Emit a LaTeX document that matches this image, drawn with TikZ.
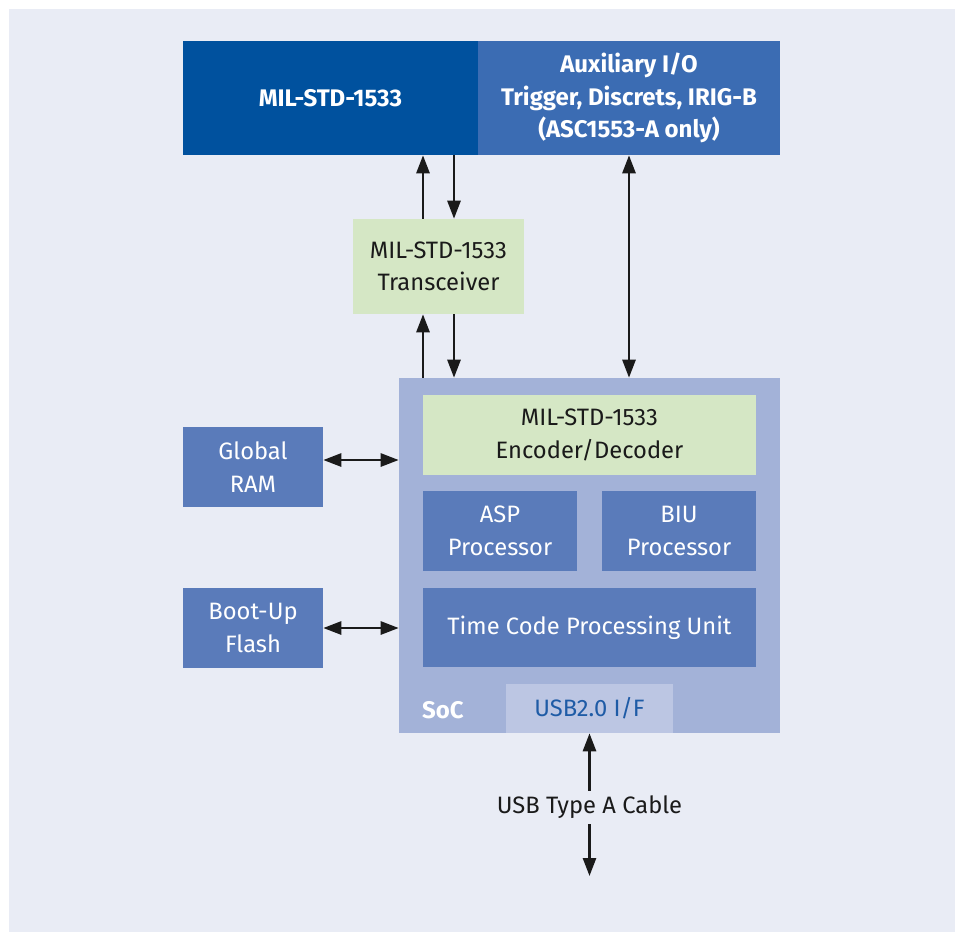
\documentclass[tikz,border=0pt]{standalone}
\usepackage{fontspec}
\setmainfont{Fira Sans}
\usetikzlibrary{arrows.meta}
\definecolor{bgc}{HTML}{E9ECF5}
\definecolor{darkb}{HTML}{00519E}
\definecolor{auxb}{HTML}{3B6CB3}
\definecolor{lgreen}{HTML}{D5E7C5}
\definecolor{socb}{HTML}{A3B2D8}
\definecolor{midb}{HTML}{5A7BBA}
\definecolor{usbb}{HTML}{BCC6E3}
\definecolor{usbt}{HTML}{1E5BA6}
\definecolor{ink}{HTML}{1A1A1A}
\tikzset{
  blk/.style={rectangle, inner sep=0pt, align=center, font=\fontsize{17.8}{24.4}\selectfont},
  boldtxt/.style={font=\fontsize{18}{24.4}\selectfont\bfseries},
  greenbox/.style={blk, fill=lgreen, text=ink},
  bluebox/.style={blk, fill=midb, text=white},
  conn/.style={draw=ink, line width=2pt, -{Triangle[length=13.5pt,width=9.75pt]}},
  conn2/.style={draw=ink, line width=2pt, {Triangle[length=13.5pt,width=9.75pt]}-{Triangle[length=13.5pt,width=9.75pt]}},
}
\begin{document}
\begin{tikzpicture}[x=0.75pt,y=-0.75pt]
\useasboundingbox (0,0) rectangle (960,933);
\fill[white] (0,0) rectangle (960,933);
\fill[bgc] (9,9) rectangle (955,932);
% top boxes
\node[blk, boldtxt, fill=darkb, text=white, minimum width=221.25pt, minimum height=85.5pt] (mil) at (330.5,98) {MIL-STD-1533};
\node[blk, boldtxt, fill=auxb, text=white, minimum width=226.5pt, minimum height=85.5pt] (aux) at (629,98) {Auxiliary I/O\\Trigger, Discrets, IRIG-B\\(ASC1553-A only)};
% transceiver
\node[greenbox, minimum width=128.25pt, minimum height=71.25pt] (trx) at (438.5,266.5) {MIL-STD-1533\\Transceiver};
% SoC
\node[blk, fill=socb, minimum width=285.75pt, minimum height=266.25pt] (soc) at (589.5,555.5) {};
\node[greenbox, minimum width=249.75pt, minimum height=60pt] (enc) at (589.5,435) {MIL-STD-1533\\Encoder/Decoder};
\node[bluebox, minimum width=115.5pt, minimum height=60pt] (asp) at (500,531) {ASP\\Processor};
\node[bluebox, minimum width=115.5pt, minimum height=60pt] (biu) at (679,531) {BIU\\Processor};
\node[bluebox, minimum width=249.75pt, minimum height=59.25pt] (tcu) at (589.5,627.5) {Time Code Processing Unit};
\node[blk, fill=usbb, text=usbt, minimum width=125.25pt, minimum height=36.75pt] (usb) at (589.5,708.5) {USB2.0 I/F};
\node[blk, boldtxt, text=white] (soclbl) at (443,710) {SoC};
% memory boxes
\node[bluebox, minimum width=105pt, minimum height=60pt] (ram) at (253,467) {Global\\RAM};
\node[bluebox, minimum width=105pt, minimum height=60pt] (flash) at (253,628) {Boot-Up\\Flash};
% cable label
\node[blk, text=ink, minimum height=24.75pt] (cable) at (589.5,807.5) {USB Type A Cable};
\coordinate (cend) at (589.5,876);
% connectors
\draw[conn] ([xshift=-11.625pt]trx.north) -- ([xshift=-11.625pt]trx.north |- mil.south);
\draw[conn] ([xshift=11.625pt]trx.north |- mil.south) -- ([xshift=11.625pt]trx.north);
\draw[conn] ([xshift=-11.625pt]trx.south |- soc.north) -- ([xshift=-11.625pt]trx.south);
\draw[conn] ([xshift=11.625pt]trx.south) -- ([xshift=11.625pt]trx.south |- soc.north);
\draw[conn2] (aux.south) -- (aux.south |- soc.north);
\draw[conn2] ([yshift=5.25pt]ram.east) -- ([yshift=5.25pt]ram.east -| soc.west);
\draw[conn2] (flash.east) -- (flash.east -| soc.west);
\draw[conn] (cable.north) -- (usb.south);
\draw[conn] (cable.south) -- (cend);
\end{tikzpicture}
\end{document}
